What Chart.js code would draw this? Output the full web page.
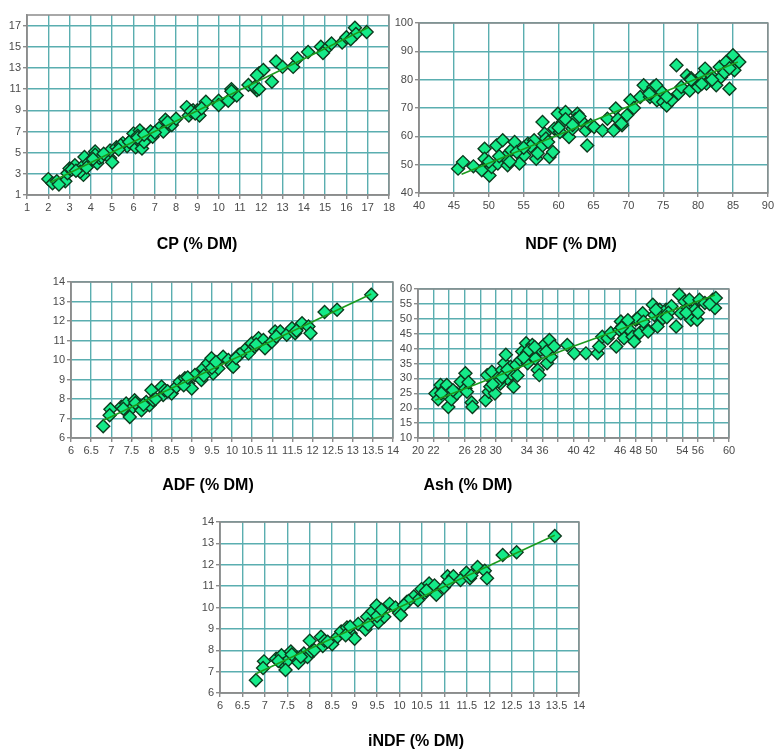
<!DOCTYPE html>
<html>
<head>
<meta charset="utf-8">
<script src="https://cdn.jsdelivr.net/npm/chart.js@4.4.1/dist/chart.umd.min.js"></script>
<style>
  body { margin: 0; background: #fff; }
  #page { position: relative; width: 776px; height: 749px; overflow: hidden; }
  canvas { position: absolute; left: 0; top: 0; }
  .ttl { position: absolute; font: bold 16px "Liberation Sans", Arial, sans-serif; color: #000;
         transform: translate(-50%, -50%); white-space: nowrap; }
</style>
</head>
<body>
<div id="page">
  <canvas id="cp" width="776" height="749"></canvas>
  <canvas id="ndf" width="776" height="749"></canvas>
  <canvas id="adf" width="776" height="749"></canvas>
  <canvas id="ash" width="776" height="749"></canvas>
  <canvas id="indf" width="776" height="749"></canvas>
  <div class="ttl" style="left:197px;top:244px">CP (% DM)</div>
  <div class="ttl" style="left:571px;top:244px">NDF (% DM)</div>
  <div class="ttl" style="left:208px;top:485px">ADF (% DM)</div>
  <div class="ttl" style="left:468px;top:485px">Ash (% DM)</div>
  <div class="ttl" style="left:416px;top:741px">iNDF (% DM)</div>
</div>
<script>
// CP
var cpX = [2.0, 2.2, 2.4, 2.8, 2.9, 3.0, 3.25, 3.6, 3.65, 3.5, 3.7, 3.9, 4.2, 4.3, 4.4, 4.2, 4.5, 4.9, 5.0, 4.9,
           5.2, 5.5, 5.7, 5.9, 6.0, 6.1, 6.3, 6.35, 6.4, 6.6, 6.8, 6.9, 7.2, 7.4, 7.5, 7.7, 7.8, 8.0, 8.5, 8.6,
           8.8, 9.0, 9.1, 9.4, 10.0, 10.0, 10.45, 10.6, 10.85, 11.4, 11.8, 11.9, 12.1, 12.5, 12.7, 13.0, 13.5, 13.7, 14.2, 14.8,
           15.0, 15.3, 15.8, 16.0, 16.4, 16.45, 16.95, 4.1, 5.4, 6.2, 3.1, 8.7, 11.7, 6.5,
           2.5, 3.3, 3.8, 4.6, 5.3, 5.8, 6.2, 6.5, 7.0, 7.6, 8.9, 9.2, 10.6, 11.8, 11.9, 14.9, 16.2];
var cpY = [2.5, 2.1, 2.3, 2.3, 3.05, 3.5, 3.8, 3.7, 2.9, 3.2, 4.6, 4.1, 5.1, 4.0, 4.5, 4.8, 4.6, 4.5, 4.1, 5.2,
           5.5, 5.9, 5.6, 6.2, 6.8, 5.5, 7.1, 5.9, 5.4, 6.2, 7.0, 6.5, 7.3, 7.0, 8.1, 7.6, 7.6, 8.2, 9.3, 8.5,
           9.0, 9.0, 8.5, 9.8, 9.9, 9.5, 9.9, 11.0, 10.4, 11.4, 10.9, 12.5, 12.8, 11.7, 13.6, 13.1, 13.1, 13.9, 14.5, 15.0,
           14.7, 15.3, 15.4, 15.9, 16.8, 16.2, 16.4, 4.4, 5.7, 6.6, 3.4, 8.9, 11.2, 6.0,
           2.0, 3.3, 3.6, 4.9, 5.3, 6.0, 6.4, 6.7, 6.9, 7.9, 8.7, 9.2, 10.8, 12.3, 11.0, 14.4, 15.7];
var cpFitX = [2.1, 17.0];
var cpFitY = [2.2, 16.8];
var cpXTicks = [1, 2, 3, 4, 5, 6, 7, 8, 9, 10, 11, 12, 13, 14, 15, 16, 17, 18];
var cpYTicks = [1, 3, 5, 7, 9, 11, 13, 15, 17];

// NDF
var ndfX = [45.6, 46.3, 47.8, 49.0, 49.4, 49.4, 50.1, 50.4, 51.1, 51.3, 52.0, 52.3, 52.7, 53.2, 53.7, 54.4, 55.1, 55.6, 56.5, 56.8,
            57.5, 57.7, 58.0, 58.2, 58.7, 59.2, 59.4, 59.9, 60.6, 61.0, 61.5, 62.0, 62.7, 63.2, 63.9, 64.1, 64.6, 65.1, 66.3, 67.0,
            68.2, 67.9, 69.1, 69.8, 70.3, 71.7, 72.2, 73.1, 73.6, 74.1, 74.6, 75.0, 75.5, 76.2, 76.9, 77.2, 77.6, 78.4, 78.8, 79.3,
            80.0, 80.5, 81.0, 81.2, 81.9, 82.6, 83.1, 83.3, 84.0, 84.5, 85.0, 85.2, 85.9, 54.0, 56.0, 60.2, 62.4, 70.8, 79.0, 83.8,
            50.0, 51.5, 53.0, 55.0, 57.0, 58.5, 60.0, 61.0, 62.0, 63.0, 68.5, 69.0, 73.0, 74.0, 75.5, 79.0, 80.5, 82.0, 84.5];
var ndfY = [48.6, 50.9, 49.4, 48.0, 55.6, 52.1, 46.2, 49.2, 56.8, 50.4, 58.6, 52.7, 49.8, 55.1, 58.0, 50.4, 53.3, 57.4, 58.6, 52.1,
            56.2, 65.1, 60.9, 59.2, 52.7, 54.5, 62.7, 68.0, 65.1, 68.6, 59.8, 62.7, 68.0, 65.6, 62.1, 56.8, 63.9, 63.3, 62.1, 66.2,
            69.8, 62.1, 63.9, 67.4, 72.7, 73.9, 78.0, 73.9, 77.4, 72.7, 76.2, 72.1, 70.9, 72.7, 85.1, 75.1, 77.4, 81.5, 76.2, 79.2,
            77.4, 81.5, 83.9, 78.6, 81.5, 78.0, 84.5, 80.9, 86.2, 76.8, 88.6, 83.3, 86.2, 54.5, 56.5, 61.5, 66.0, 70.0, 80.5, 82.5,
            51.0, 53.0, 51.0, 56.0, 54.0, 58.0, 63.0, 66.0, 64.0, 67.0, 66.0, 64.5, 75.0, 78.0, 74.0, 80.0, 78.5, 80.0, 84.0];
var ndfFitX = [46.1, 85.7];
var ndfFitY = [46.6, 86.2];
var ndfXTicks = [40, 45, 50, 55, 60, 65, 70, 75, 80, 85, 90];
var ndfYTicks = [40, 50, 60, 70, 80, 90, 100];

// ADF
var adfX = [6.8, 6.98, 6.96, 7.25, 7.37, 7.41, 7.5, 7.46, 7.58, 7.7, 7.75, 7.87, 7.95, 8.0, 8.04, 8.25, 8.29, 8.33, 8.5, 8.62,
            8.7, 8.83, 8.91, 9.0, 9.08, 9.24, 9.28, 9.4, 9.49, 9.53, 9.66, 9.78, 9.91, 9.99, 10.03, 10.16, 10.32, 10.41, 10.49, 10.57,
            10.66, 10.78, 10.82, 10.99, 11.07, 11.2, 11.36, 11.49, 11.57, 11.74, 11.9, 11.95, 12.3, 12.61, 13.46, 7.6, 8.1, 8.8, 9.3, 10.2,
            7.3, 7.8, 8.4, 8.9, 9.5, 9.6, 10.1, 10.6, 11.1, 11.6];
var adfY = [6.6, 7.48, 7.17, 7.6, 7.77, 7.34, 7.5, 7.08, 7.94, 7.6, 7.42, 7.85, 7.68, 8.45, 7.94, 8.63, 8.2, 8.45, 8.28, 8.63,
            8.88, 9.06, 8.8, 8.54, 9.23, 8.97, 9.57, 9.83, 10.09, 9.31, 9.57, 10.17, 10.0, 9.74, 9.65, 10.26, 10.51, 10.34, 10.86, 10.69,
            11.12, 11.03, 10.6, 10.94, 11.46, 11.46, 11.29, 11.63, 11.37, 11.89, 11.72, 11.37, 12.46, 12.58, 13.35, 7.8, 8.0, 8.7, 9.2, 10.3,
            7.5, 7.7, 8.4, 9.1, 9.6, 9.9, 10.1, 10.8, 11.2, 11.5];
var adfFitX = [6.8, 13.46];
var adfFitY = [6.9, 13.38];
var adfXTicks = [6, 6.5, 7, 7.5, 8, 8.5, 9, 9.5, 10, 10.5, 11, 11.5, 12, 12.5, 13, 13.5, 14];
var adfYTicks = [6, 7, 8, 9, 10, 11, 12, 13, 14];

// Ash
var ashX = [22.24, 22.6, 22.9, 23.3, 23.7, 23.9, 24.0, 24.3, 25.0, 25.5, 26.1, 26.1, 26.3, 26.5, 26.9, 27.0, 28.7, 28.9, 29.1, 29.3,
            29.5, 29.9, 30.2, 30.6, 30.8, 31.1, 31.3, 31.5, 31.9, 32.3, 32.6, 33.2, 33.4, 33.9, 34.1, 34.5, 34.7, 35.1, 35.4, 35.6,
            35.8, 36.2, 36.6, 36.9, 37.1, 37.5, 39.2, 40.1, 41.6, 43.1, 43.3, 43.7, 44.4, 44.8, 45.5, 45.9, 46.1, 46.5, 46.8, 47.2,
            47.6, 47.8, 48.0, 48.5, 48.9, 49.3, 49.6, 50.2, 50.4, 50.8, 51.1, 51.5, 51.9, 52.6, 53.2, 53.6, 53.8, 54.3, 54.7, 54.9,
            55.1, 55.6, 55.9, 56.2, 56.9, 57.9, 58.2, 58.3, 30.4, 32.0, 34.0, 46.3, 48.2, 52.2,
            23.0, 24.5, 29.6, 30.8, 31.5, 32.8, 33.6, 34.3, 35.0, 36.5, 46.2, 47.0, 49.0, 50.6, 52.0, 54.5, 56.0, 57.5];
var ashY = [24.9, 23.0, 27.8, 26.1, 27.8, 20.4, 24.9, 23.0, 24.9, 28.9, 26.6, 31.7, 25.5, 28.7, 21.9, 20.4, 22.7, 31.1, 25.5, 27.2,
            32.2, 24.9, 30.0, 28.3, 32.8, 35.1, 37.9, 30.0, 33.9, 27.2, 34.5, 36.2, 39.0, 41.8, 35.1, 37.9, 41.2, 36.7, 32.8, 31.1,
            39.6, 41.2, 35.1, 42.9, 37.3, 40.7, 41.2, 38.4, 38.4, 38.4, 40.7, 44.0, 43.5, 45.2, 40.7, 46.3, 49.1, 43.5, 48.0, 46.3,
            44.0, 42.4, 49.7, 45.2, 51.9, 46.9, 45.7, 54.7, 51.3, 47.4, 53.0, 50.2, 53.0, 54.2, 47.4, 58.1, 51.9, 55.8, 53.6, 56.4,
            49.7, 53.0, 49.7, 56.4, 55.3, 56.4, 53.6, 57.0, 29.0, 31.5, 38.5, 47.5, 50.0, 52.0,
            25.0, 26.0, 28.0, 30.5, 33.0, 31.0, 37.0, 39.5, 40.5, 39.0, 47.0, 49.5, 49.0, 53.0, 50.5, 52.0, 52.0, 55.0];
var ashFitX = [22.2, 40.0, 58.2];
var ashFitY = [22.7, 40.8, 58.0];
var ashXTicks = [20, 22, 24, 26, 28, 30, 32, 34, 36, 38, 40, 42, 44, 46, 48, 50, 52, 54, 56, 58, 60];
var ashXLabels = [20, 22, 26, 28, 30, 34, 36, 40, 42, 46, 48, 50, 54, 56, 60];
var ashYTicks = [10, 15, 20, 25, 30, 35, 40, 45, 50, 55, 60];

// iNDF (same readings as ADF)
var indfX = adfX.slice();
var indfY = adfY.slice();
var indfFitX = adfFitX.slice();
var indfFitY = adfFitY.slice();

Chart.defaults.font.family = '"Liberation Sans", Arial, sans-serif';
Chart.defaults.font.size = 11;
Chart.defaults.color = '#4a4a4a';

var GRID = '#5aaeb0';
var FRAME = '#8c8c8c';
var Y_W = 26, X_H = 20;

function pts(xs, ys) {
  return xs.map(function (x, i) { return { x: x, y: ys[i] }; });
}

var framePlugin = {
  id: 'frame',
  beforeDatasetsDraw: function (chart) {
    var a = chart.chartArea, ctx = chart.ctx;
    ctx.save();
    ctx.strokeStyle = FRAME;
    ctx.lineWidth = 1.5;
    ctx.strokeRect(a.left, a.top, a.right - a.left, a.bottom - a.top);
    ctx.restore();
  }
};

function axis(min, max, ticks, labels, isX) {
  return {
    type: 'linear',
    min: min,
    max: max,
    afterBuildTicks: function (s) { s.ticks = ticks.map(function (v) { return { value: v }; }); },
    afterFit: function (s) { if (isX) s.height = X_H; else s.width = Y_W; },
    grid: { color: GRID, lineWidth: 1.4, tickLength: 4, tickColor: FRAME },
    border: { color: FRAME, width: 1.5 },
    ticks: {
      autoSkip: false,
      maxRotation: 0,
      padding: 2,
      callback: function (v) { return (!labels || labels.indexOf(v) >= 0) ? String(v) : ''; }
    }
  };
}

function draw(id, box, xs, ys, fx, fy, xr, yr) {
  new Chart(document.getElementById(id), {
    type: 'scatter',
    data: {
      datasets: [
        {
          type: 'line',
          data: pts(fx, fy),
          borderColor: '#1c9a1c',
          borderWidth: 1.6,
          pointRadius: 0,
          fill: false,
          clip: false
        },
        {
          data: pts(xs, ys),
          pointStyle: 'rectRot',
          pointRadius: 6.5,
          pointHoverRadius: 6.5,
          backgroundColor: '#14ea88',
          borderColor: '#0d3b1e',
          borderWidth: 1.4,
          clip: false
        }
      ]
    },
    options: {
      responsive: false,
      animation: false,
      events: [],
      layout: {
        padding: { left: box.l - Y_W, top: box.t, right: 776 - box.r, bottom: 749 - box.b - X_H }
      },
      plugins: { legend: { display: false }, tooltip: { enabled: false } },
      scales: {
        x: axis(xr[0], xr[1], xr[2], xr[3], true),
        y: axis(yr[0], yr[1], yr[2], yr[3], false)
      }
    },
    plugins: [framePlugin]
  });
}

draw('cp',   { l: 27,  t: 15,  r: 389, b: 195 }, cpX, cpY, cpFitX, cpFitY, [1, 18, cpXTicks], [1, 18, cpYTicks]);
draw('ndf',  { l: 419, t: 23,  r: 770, b: 193 }, ndfX, ndfY, ndfFitX, ndfFitY, [40, 90, ndfXTicks], [40, 100, ndfYTicks]);
draw('adf',  { l: 71,  t: 282, r: 393, b: 438 }, adfX, adfY, adfFitX, adfFitY, [6, 14, adfXTicks], [6, 14, adfYTicks]);
draw('ash',  { l: 418, t: 289, r: 729, b: 438 }, ashX, ashY, ashFitX, ashFitY, [20, 60, ashXTicks, ashXLabels], [10, 60, ashYTicks]);
draw('indf', { l: 220, t: 522, r: 579, b: 693 }, indfX, indfY, indfFitX, indfFitY, [6, 14, adfXTicks], [6, 14, adfYTicks]);
</script>
</body>
</html>
